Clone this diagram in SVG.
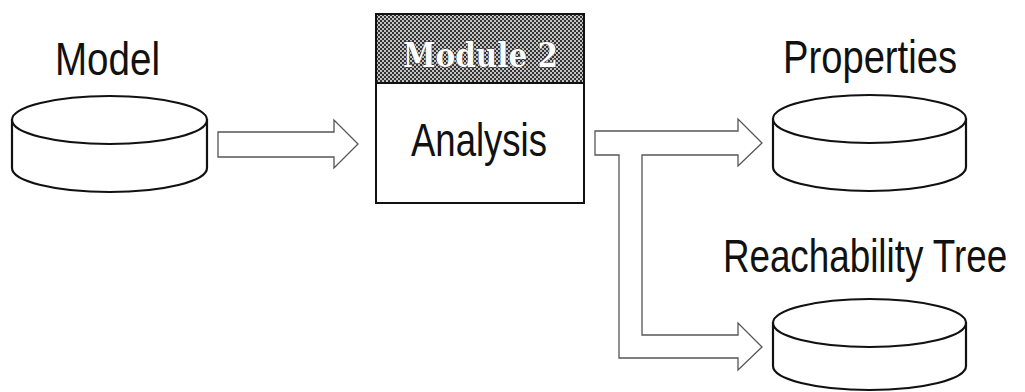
<svg xmlns="http://www.w3.org/2000/svg" width="1025" height="392" viewBox="0 0 1025 392">
<style>
.lbl{font-family:"Liberation Sans",Arial,sans-serif;font-size:46px;fill:#111;text-anchor:middle}
.cyl{fill:#fff;stroke:#111;stroke-width:2.2}
.arr{fill:#fff;stroke:#555;stroke-width:1.3;stroke-linejoin:miter}
.box{fill:#fff;stroke:#111;stroke-width:2}
.hdr{font-family:"DejaVu Serif","Liberation Serif",serif;font-weight:bold;font-size:34px;fill:#fff;stroke:#333;stroke-width:1;paint-order:stroke;text-anchor:middle}
</style>
<defs>
<pattern id="chk" width="4" height="4" patternUnits="userSpaceOnUse">
<rect width="4" height="4" fill="#c4c4c4"/>
<rect width="2" height="2" fill="#333"/>
<rect x="2" y="2" width="2" height="2" fill="#333"/>
</pattern>
</defs>
<rect width="1025" height="392" fill="#fff"/>
<g id="connectors">
<path class="arr" d="M218,132 L334,132 L334,120 L358,144 L334,168 L334,157 L218,157 Z"/>
<path class="arr" d="M595,131 L738,131 L738,119 L762,143 L738,166 L738,155 L642,155 L642,335 L738,335 L738,323 L762,347 L738,370 L738,358 L619,358 L619,155 L595,155 Z"/>
</g>
<g id="model">
<text class="lbl" x="107.5" y="75" textLength="105" lengthAdjust="spacingAndGlyphs">Model</text>
<path class="cyl" d="M12,120 L12,168 A97.5,24 0 0 0 207,168 L207,120 Z"/>
<ellipse class="cyl" cx="109.5" cy="120" rx="97.5" ry="24"/>
</g>
<g id="analysis">
<rect class="box" x="376" y="14" width="208" height="189"/>
<rect x="377" y="15" width="206" height="68" fill="url(#chk)"/>
<line x1="376" y1="83" x2="584" y2="83" stroke="#111" stroke-width="2"/>
<text class="hdr" x="480.5" y="67" textLength="155" lengthAdjust="spacingAndGlyphs">Module 2</text>
<text class="lbl" x="479" y="156" textLength="136" lengthAdjust="spacingAndGlyphs">Analysis</text>
</g>
<g id="properties">
<text class="lbl" x="870" y="73" textLength="174" lengthAdjust="spacingAndGlyphs">Properties</text>
<path class="cyl" d="M773,119 L773,167 A96.5,24 0 0 0 966,167 L966,119 Z"/>
<ellipse class="cyl" cx="869.5" cy="119" rx="96.5" ry="24"/>
</g>
<g id="reachability">
<text class="lbl" transform="translate(865,272) scale(0.8,1)" x="0" y="0">Reachability Tree</text>
<path class="cyl" d="M773,323 L773,366 A96.5,24 0 0 0 966,366 L966,323 Z"/>
<ellipse class="cyl" cx="869.5" cy="323" rx="96.5" ry="24"/>
</g>
</svg>
